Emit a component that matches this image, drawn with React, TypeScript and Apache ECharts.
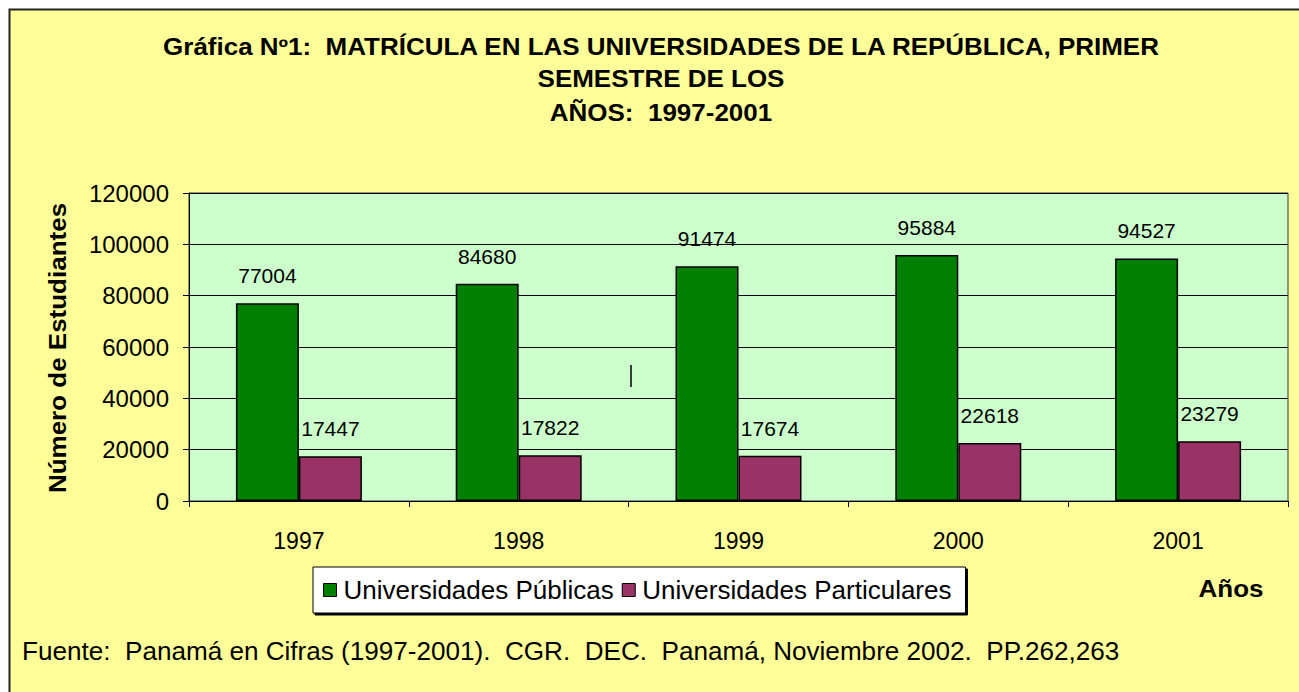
import React, { useEffect, useRef } from "react";
import * as echarts from "echarts";

const years = ["1997", "1998", "1999", "2000", "2001"];
const publicas = [77004, 84680, 91474, 95884, 94527];
const particulares = [17447, 17822, 17674, 22618, 23279];
const seriesNames = ["Universidades Públicas", "Universidades Particulares"];
const titleLines = [
  "Gráfica Nº1:  MATRÍCULA EN LAS UNIVERSIDADES DE LA REPÚBLICA, PRIMER",
  "SEMESTRE DE LOS",
  "AÑOS:  1997-2001",
];
const yAxisTitle = "Número de Estudiantes";
const xAxisTitle = "Años";
const sourceText =
  "Fuente:  Panamá en Cifras (1997-2001).  CGR.  DEC.  Panamá, Noviembre 2002.  PP.262,263";

const FONT = "'Liberation Sans', Arial, sans-serif";

export default function App() {
  const ref = useRef<HTMLDivElement>(null);
  useEffect(() => {
    if (!ref.current) return;
    const chart = echarts.init(ref.current, undefined, { renderer: "svg" });
    const labelStyle = {
      show: true,
      position: "top" as const,
      distance: 17,
      color: "#000",
      fontFamily: FONT,
      fontSize: 21,
    };
    chart.setOption({
      animation: false,
      backgroundColor: "#ffffff",
      textStyle: { fontFamily: FONT },
      graphic: [
        {
          type: "rect",
          z: -10,
          silent: true,
          shape: { x: 9.5, y: 9.5, width: 1400, height: 800 },
          style: { fill: "#FFFF99", stroke: "#222", lineWidth: 2 },
        },
        ...titleLines.map((t, i) => ({
          type: "text",
          x: 661,
          y: [47, 79, 113][i],
          scaleX: 1.13,
          style: {
            text: t,
            align: "center",
            verticalAlign: "middle",
            fontFamily: FONT,
            fontWeight: "bold",
            fontSize: 23,
            fill: "#000",
          },
        })),
        {
          type: "text",
          x: 58,
          y: 348,
          rotation: Math.PI / 2,
          scaleX: 1.13,
          style: {
            text: yAxisTitle,
            align: "center",
            verticalAlign: "middle",
            fontFamily: FONT,
            fontWeight: "bold",
            fontSize: 23,
            fill: "#000",
          },
        },
        {
          type: "text",
          x: 1231,
          y: 589,
          scaleX: 1.13,
          style: {
            text: xAxisTitle,
            align: "center",
            verticalAlign: "middle",
            fontFamily: FONT,
            fontWeight: "bold",
            fontSize: 23,
            fill: "#000",
          },
        },
        {
          type: "text",
          x: 22,
          y: 651,
          scaleX: 1.044,
          style: {
            text: sourceText,
            align: "left",
            verticalAlign: "middle",
            fontFamily: FONT,
            fontSize: 25,
            fill: "#000",
          },
        },
        {
          type: "line",
          shape: { x1: 631, y1: 365, x2: 631, y2: 387 },
          style: { stroke: "#000", lineWidth: 1.5 },
        },
      ],
      legend: {
        left: 313,
        top: 567,
        orient: "horizontal",
        data: seriesNames,
        backgroundColor: "#ffffff",
        borderColor: "#000",
        borderWidth: 1,
        shadowColor: "#000",
        shadowOffsetX: 2,
        shadowOffsetY: 2,
        shadowBlur: 0,
        padding: [10, 14, 10, 10],
        itemWidth: 13,
        itemHeight: 13,
        itemGap: 8,
        icon: "rect",
        itemStyle: { borderColor: "#000", borderWidth: 1 },
        textStyle: { fontFamily: FONT, fontSize: 26, color: "#000", padding: [0, 0, 0, 2] },
      },
      grid: {
        left: 189,
        top: 193,
        right: 11,
        bottom: 191,
        show: true,
        backgroundColor: "#CCFFCC",
        borderColor: "#333",
        borderWidth: 1,
      },
      xAxis: {
        type: "category",
        data: years,
        boundaryGap: true,
        axisLine: { lineStyle: { color: "#000", width: 1 } },
        axisTick: { show: true, length: 6, inside: false, lineStyle: { color: "#000" } },
        axisLabel: { color: "#000", fontFamily: FONT, fontSize: 23, margin: 28 },
      },
      yAxis: {
        type: "value",
        min: 0,
        max: 120000,
        interval: 20000,
        axisLine: { show: true, lineStyle: { color: "#000", width: 1 } },
        axisTick: { show: true, length: 6, lineStyle: { color: "#000" } },
        axisLabel: {
          color: "#000",
          fontFamily: FONT,
          fontSize: 24,
          margin: 20,
          formatter: (v: number) => String(v),
        },
        splitLine: { show: true, lineStyle: { color: "#000", width: 1 } },
      },
      series: [
        {
          name: seriesNames[0],
          type: "bar",
          data: publicas,
          barWidth: 63,
          barGap: "0%",
          itemStyle: { color: "#008000", borderColor: "#000", borderWidth: 1.5 },
          label: labelStyle,
        },
        {
          name: seriesNames[1],
          type: "bar",
          data: particulares,
          barWidth: 63,
          barGap: "0%",
          itemStyle: { color: "#993366", borderColor: "#000", borderWidth: 1.5 },
          label: labelStyle,
        },
      ],
    });
    return () => chart.dispose();
  }, []);
  return (
    <div
      ref={ref}
      style={{ position: "fixed", left: 0, top: 0, width: 1299, height: 692 }}
    />
  );
}
